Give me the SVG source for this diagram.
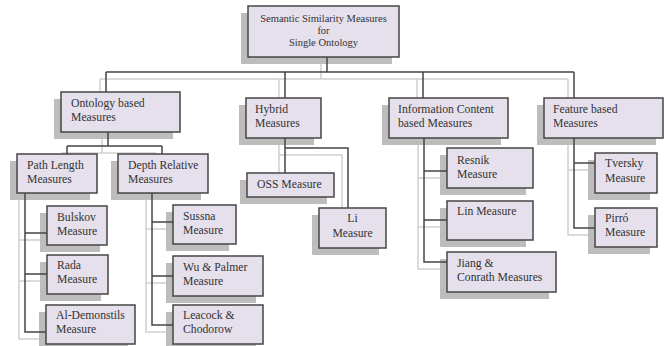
<svg xmlns="http://www.w3.org/2000/svg" xmlns:xlink="http://www.w3.org/1999/xlink" width="670" height="346" viewBox="0 0 670 346">
<style>
.box{fill:#e5e0ec;stroke:#454545;stroke-width:1.5}
.sh{fill:#bdbdbd}
text{font-family:"Liberation Serif","Times New Roman",serif;font-size:11.7px;fill:#333}
.root{font-size:10.5px;text-anchor:middle}
.mid{text-anchor:middle}
.cn{fill:none;stroke-width:1.5}
</style>
<defs>
<g id="conn-paths">
<path d="M327 57V72M106 72H574M106 72V92M285 72V98M423 72V98M574 72V98"/>
<path d="M108 132V146M67 146H162M67 146V154M162 146V154"/>
<path d="M25 193V332H46M25 233H47M25 274H47"/>
<path d="M152 193V325H173M152 222H173M152 276H173"/>
<path d="M285 138V173M285 148H348V208"/>
<path d="M424 138V262H447M424 171H447M424 220H447"/>
<path d="M574 138V228H595M574 163H595"/>
</g>
</defs>
<g id="connector-shadows" class="cn" stroke="#cfcfcf">
<use xlink:href="#conn-paths" href="#conn-paths" transform="translate(-6,7)"/>
</g>
<g id="n-root"><rect class="sh" x="241" y="13" width="151" height="51"/><rect class="box" x="248" y="6" width="151" height="51"/>
<text class="root" x="323.5" y="22">Semantic Similarity Measures</text><text class="root" x="323.5" y="34">for</text><text class="root" x="323.5" y="46">Single Ontology</text></g>
<g id="n-ontology"><rect class="sh" x="54" y="99" width="119" height="40"/><rect class="box" x="61" y="92" width="119" height="40"/>
<text x="71" y="107">Ontology based</text><text x="71" y="121">Measures</text></g>
<g id="n-hybrid"><rect class="sh" x="239" y="105" width="75" height="40"/><rect class="box" x="246" y="98" width="75" height="40"/>
<text x="255" y="113">Hybrid</text><text x="255" y="127">Measures</text></g>
<g id="n-info"><rect class="sh" x="382" y="105" width="119" height="40"/><rect class="box" x="389" y="98" width="119" height="40"/>
<text x="398" y="113">Information Content</text><text x="398" y="127">based Measures</text></g>
<g id="n-feature"><rect class="sh" x="537" y="105" width="119" height="40"/><rect class="box" x="544" y="98" width="119" height="40"/>
<text x="553" y="113">Feature based</text><text x="553" y="127">Measures</text></g>
<g id="n-path"><rect class="sh" x="10" y="161" width="80" height="39"/><rect class="box" x="17" y="154" width="80" height="39"/>
<text x="27" y="169">Path Length</text><text x="27" y="183">Measures</text></g>
<g id="n-depth"><rect class="sh" x="111" y="161" width="90" height="39"/><rect class="box" x="118" y="154" width="90" height="39"/>
<text x="128" y="169">Depth Relative</text><text x="128" y="183">Measures</text></g>
<g id="n-oss"><rect class="sh" x="240" y="180" width="87" height="24"/><rect class="box" x="247" y="173" width="87" height="24"/>
<text x="257" y="188">OSS Measure</text></g>
<g id="n-li"><rect class="sh" x="312" y="215" width="67" height="40"/><rect class="box" x="319" y="208" width="67" height="40"/>
<text class="mid" x="352.5" y="222">Li</text><text class="mid" x="352.5" y="237">Measure</text></g>
<g id="n-bulskov"><rect class="sh" x="40" y="213" width="60" height="39"/><rect class="box" x="47" y="206" width="60" height="39"/>
<text x="57" y="221">Bulskov</text><text x="57" y="235">Measure</text></g>
<g id="n-rada"><rect class="sh" x="40" y="262" width="61" height="39"/><rect class="box" x="47" y="255" width="61" height="39"/>
<text x="57" y="269">Rada</text><text x="57" y="283">Measure</text></g>
<g id="n-aldemonstils"><rect class="sh" x="39" y="312" width="89" height="39"/><rect class="box" x="46" y="305" width="89" height="39"/>
<text x="56" y="319">Al-Demonstils</text><text x="56" y="333">Measure</text></g>
<g id="n-sussna"><rect class="sh" x="166" y="212" width="63" height="39"/><rect class="box" x="173" y="205" width="63" height="39"/>
<text x="183" y="220">Sussna</text><text x="183" y="234">Measure</text></g>
<g id="n-wupalmer"><rect class="sh" x="166" y="263" width="90" height="40"/><rect class="box" x="173" y="256" width="90" height="40"/>
<text x="183" y="271">Wu &amp; Palmer</text><text x="183" y="285">Measure</text></g>
<g id="n-leacock"><rect class="sh" x="166" y="312" width="90" height="39"/><rect class="box" x="173" y="305" width="90" height="39"/>
<text x="183" y="319">Leacock &amp;</text><text x="183" y="333">Chodorow</text></g>
<g id="n-resnik"><rect class="sh" x="440" y="155" width="86" height="40"/><rect class="box" x="447" y="148" width="86" height="40"/>
<text x="457" y="164">Resnik</text><text x="457" y="178">Measure</text></g>
<g id="n-lin"><rect class="sh" x="440" y="208" width="86" height="39"/><rect class="box" x="447" y="201" width="86" height="39"/>
<text x="457" y="215">Lin Measure</text></g>
<g id="n-jiang"><rect class="sh" x="440" y="259" width="109" height="40"/><rect class="box" x="447" y="252" width="109" height="40"/>
<text x="457" y="267">Jiang &amp;</text><text x="457" y="281">Conrath Measures</text></g>
<g id="n-tversky"><rect class="sh" x="588" y="160" width="62" height="40"/><rect class="box" x="595" y="153" width="62" height="40"/>
<text x="605" y="167">Tversky</text><text x="605" y="182">Measure</text></g>
<g id="n-pirro"><rect class="sh" x="588" y="215" width="62" height="39"/><rect class="box" x="595" y="208" width="62" height="39"/>
<text x="605" y="222">Pirró</text><text x="605" y="236">Measure</text></g>
<g id="connectors" class="cn" stroke="#454545">
<use xlink:href="#conn-paths" href="#conn-paths"/>
</g>
</svg>
